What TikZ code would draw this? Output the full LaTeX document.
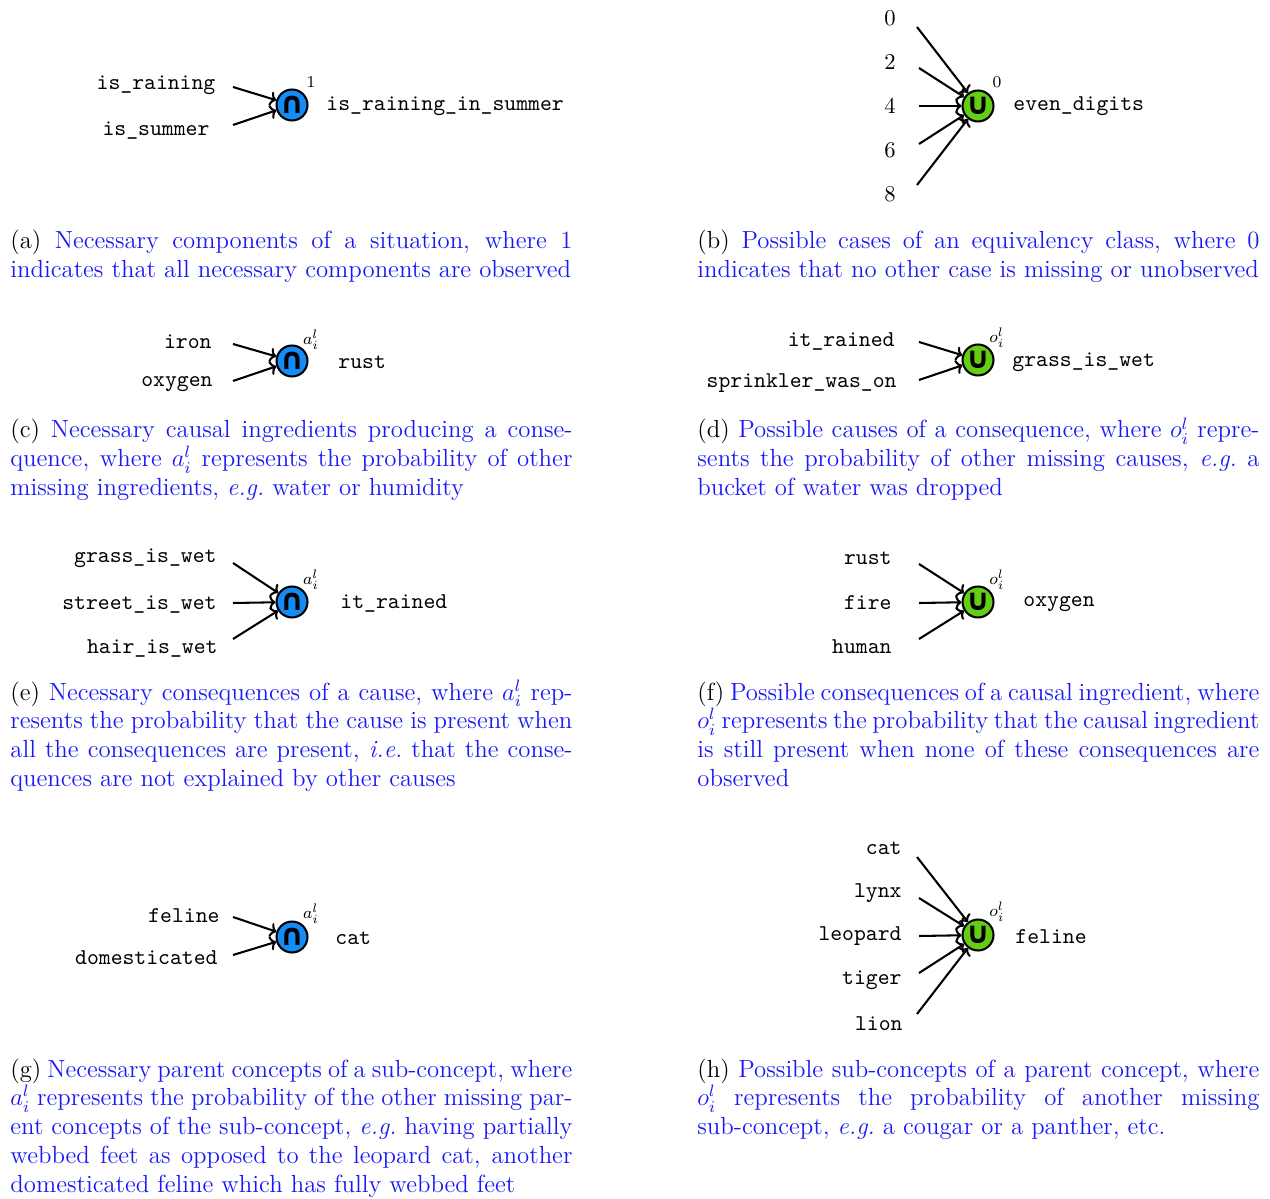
\documentclass[tikz,border=0pt]{standalone}
\usepackage{amsmath}
\usepackage{fontspec}
\usetikzlibrary{arrows.meta}
\newfontfamily\symfont{DejaVu Sans}
\definecolor{andblue}{RGB}{20,140,245}
\definecolor{orgreen}{RGB}{100,205,20}
\definecolor{capblue}{RGB}{25,25,245}
\tolerance=10000\relax
\hyphenpenalty=10000\relax
\tikzset{
  tlabel/.style={font=\fontsize{10.95}{13.6}\selectfont\ttfamily, inner sep=0pt},
  dlabel/.style={font=\fontsize{10.95}{13.6}\selectfont\rmfamily, inner sep=0pt, anchor=base},
  gate/.style={circle, draw, line width=1pt, minimum size=15pt, inner sep=0pt, font=\symfont\bfseries\fontsize{14.5}{18}\selectfont},
  andnode/.style={gate, fill=andblue},
  ornode/.style={gate, fill=orgreen},
  plabel/.style={font=\fontsize{8}{9.5}\selectfont, inner sep=0pt},
  captext/.style={text width=272.2pt, align=justify, inner sep=0pt, text=capblue, anchor=base west,
    font=\fontsize{12}{14}\selectfont},
  arr/.style={-{To[length=3pt, width=7pt]}, line width=1pt}
}
\newcommand{\capid}[1]{\textcolor{black}{(#1)}}
\begin{document}
\begin{tikzpicture}[x=0.4843pt, y=-0.4843pt]
\useasboundingbox (0,0) rectangle (1270,1199);

% ---------- (a)
\node[andnode] (ca) at (292,105) {∩};
\node[tlabel, anchor=base] (a1) at (156,90) {is\_raining};
\node[tlabel, anchor=base] (a2) at (156,136) {is\_summer};
\coordinate (a1s) at (233,87);
\coordinate (a2s) at (233,125);
\draw[arr] (a1s) -- (ca);
\draw[arr] (a2s) -- (ca);
\node[plabel] (la) at (311,82) {1};
\node[tlabel, anchor=base west] (ao) at (326,111) {is\_raining\_in\_summer};
\node[captext] (capa) at (10,249) {\capid{a} Necessary components of a situation, where 1\linebreak
indicates that all necessary components are observed};

% ---------- (b)
\node[ornode] (cb) at (978,106) {∪};
\node[dlabel] (b0) at (890,26) {0};
\node[dlabel] (b2) at (890,70) {2};
\node[dlabel] (b4) at (890,114) {4};
\node[dlabel] (b6) at (890,158) {6};
\node[dlabel] (b8) at (890,202) {8};
\coordinate (b0s) at (917,27);
\coordinate (b2s) at (919,68);
\coordinate (b4s) at (919,106);
\coordinate (b6s) at (919,144);
\coordinate (b8s) at (917,185);
\foreach \s in {b0s,b2s,b4s,b6s,b8s} \draw[arr] (\s) -- (cb);
\node[plabel] (lb) at (997,82) {0};
\node[tlabel, anchor=base west] (bo) at (1013,111) {even\_digits};
\node[captext] (capb) at (697,249) {\capid{b} Possible cases of an equivalency class, where 0\linebreak
indicates that no other case is missing or unobserved};

% ---------- (c)
\node[andnode] (cc) at (292,361) {∩};
\node[tlabel, anchor=base east] (c1) at (212,349) {iron};
\node[tlabel, anchor=base east] (c2) at (213,387) {oxygen};
\coordinate (c1s) at (233,344);
\coordinate (c2s) at (233,381);
\draw[arr] (c1s) -- (cc);
\draw[arr] (c2s) -- (cc);
\node[plabel] (lc) at (311,340) {$a_i^l$};
\node[tlabel, anchor=base west] (co) at (338,369) {rust};
\node[captext] (capc) at (10,438) {\capid{c} Necessary causal ingredients producing a conse-\linebreak
quence, where $a_i^l$ represents the probability of other\linebreak
missing ingredients, \textit{e.g.}\ water or humidity};

% ---------- (d)
\node[ornode] (cd) at (978,360) {∪};
\node[tlabel, anchor=base east] (d1) at (895,347) {it\_rained};
\node[tlabel, anchor=base east] (d2) at (897,388) {sprinkler\_was\_on};
\coordinate (d1s) at (919,342);
\coordinate (d2s) at (919,380);
\draw[arr] (d1s) -- (cd);
\draw[arr] (d2s) -- (cd);
\node[plabel] (ld) at (997,338) {$o_i^l$};
\node[tlabel, anchor=base west] (do) at (1012,367) {grass\_is\_wet};
\node[captext] (capd) at (697,438) {\capid{d} Possible causes of a consequence, where $o_i^l$ repre-\linebreak
sents the probability of other missing causes, \textit{e.g.}\ a\linebreak
bucket of water was dropped};

% ---------- (e)
\node[andnode] (ce) at (292,602) {∩};
\node[tlabel, anchor=base east] (e1) at (217,563) {grass\_is\_wet};
\node[tlabel, anchor=base east] (e2) at (217,610) {street\_is\_wet};
\node[tlabel, anchor=base east] (e3) at (218,654) {hair\_is\_wet};
\coordinate (e1s) at (233,563);
\coordinate (e2s) at (233,603);
\coordinate (e3s) at (233,639);
\draw[arr] (e1s) -- (ce);
\draw[arr] (e2s) -- (ce);
\draw[arr] (e3s) -- (ce);
\node[plabel] (le) at (311,580) {$a_i^l$};
\node[tlabel, anchor=base west] (eo) at (340,609) {it\_rained};
\node[captext] (cape) at (10,700) {\capid{e} Necessary consequences of a cause, where $a_i^l$ rep-\linebreak
resents the probability that the cause is present when\linebreak
all the consequences are present, \textit{i.e.}\ that the conse-\linebreak
quences are not explained by other causes};

% ---------- (f)
\node[ornode] (cf) at (978,602) {∪};
\node[tlabel, anchor=base east] (f1) at (892,565) {rust};
\node[tlabel, anchor=base east] (f2) at (892,610) {fire};
\node[tlabel, anchor=base east] (f3) at (892,654) {human};
\coordinate (f1s) at (919,564);
\coordinate (f2s) at (919,603);
\coordinate (f3s) at (919,639);
\draw[arr] (f1s) -- (cf);
\draw[arr] (f2s) -- (cf);
\draw[arr] (f3s) -- (cf);
\node[plabel] (lf) at (997,580) {$o_i^l$};
\node[tlabel, anchor=base west] (fo) at (1023,607) {oxygen};
\node[captext] (capf) at (697,700) {\capid{f} Possible consequences of a causal ingredient, where\linebreak
$o_i^l$ represents the probability that the causal ingredient\linebreak
is still present when none of these consequences are\linebreak
observed};

% ---------- (g)
\node[andnode] (cg) at (292,937) {∩};
\node[tlabel, anchor=base east] (g1) at (220,922) {feline};
\node[tlabel, anchor=base east] (g2) at (218,964) {domesticated};
\coordinate (g1s) at (233,917);
\coordinate (g2s) at (233,955);
\draw[arr] (g1s) -- (cg);
\draw[arr] (g2s) -- (cg);
\node[plabel] (lg) at (311,914) {$a_i^l$};
\node[tlabel, anchor=base west] (go) at (335,944) {cat};
\node[captext] (capg) at (10,1077) {\capid{g} Necessary parent concepts of a sub-concept, where\linebreak
$a_i^l$ represents the probability of the other missing par-\linebreak
ent concepts of the sub-concept, \textit{e.g.}\ having partially\linebreak
webbed feet as opposed to the leopard cat, another\linebreak
domesticated feline which has fully webbed feet};

% ---------- (h)
\node[ornode] (ch) at (978,935) {∪};
\node[tlabel, anchor=base east] (h1) at (902,854) {cat};
\node[tlabel, anchor=base east] (h2) at (902,897) {lynx};
\node[tlabel, anchor=base east] (h3) at (902,940) {leopard};
\node[tlabel, anchor=base east] (h4) at (902,984) {tiger};
\node[tlabel, anchor=base east] (h5) at (903,1030) {lion};
\coordinate (h1s) at (917,857);
\coordinate (h2s) at (919,898);
\coordinate (h3s) at (919,936);
\coordinate (h4s) at (919,973);
\coordinate (h5s) at (917,1014);
\foreach \s in {h1s,h2s,h3s,h4s,h5s} \draw[arr] (\s) -- (ch);
\node[plabel] (lh) at (997,912) {$o_i^l$};
\node[tlabel, anchor=base west] (ho) at (1015,943) {feline};
\node[captext] (caph) at (697,1077) {\capid{h} Possible sub-concepts of a parent concept, where\linebreak
$o_i^l$ represents the probability of another missing\linebreak
sub-concept, \textit{e.g.}\ a cougar or a panther, etc.};
\end{tikzpicture}
\end{document}
